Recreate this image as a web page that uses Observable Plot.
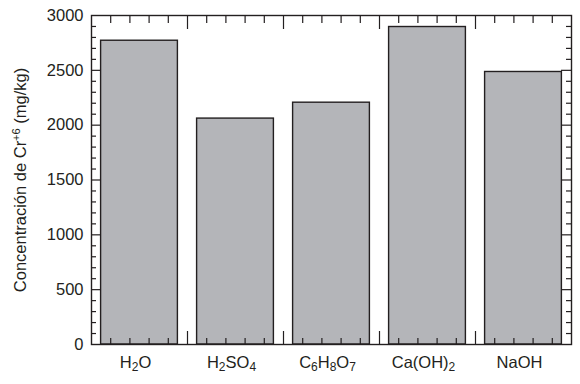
<!DOCTYPE html>
<html>
<head>
<meta charset="utf-8">
<script src="https://cdn.jsdelivr.net/npm/d3@7"></script>
<script src="https://cdn.jsdelivr.net/npm/@observablehq/plot@0.6"></script>
<style>
  html, body { margin: 0; padding: 0; background: #fff; }
  svg { font-family: "Liberation Sans", Arial, Helvetica, sans-serif; }
</style>
</head>
<body>
<div id="chart"></div>
<script>
const categories = ["H₂O", "H₂SO₄", "C₆H₈O₇", "Ca(OH)₂", "NaOH"];
const values = [2770, 2060, 2205, 2895, 2485];
const yLabel = "Concentración de Cr⁺⁶ (mg/kg)";
const yMajorTicks = [0, 500, 1000, 1500, 2000, 2500, 3000];

const data = categories.map((c, i) => ({category: c, index: i, value: values[i]}));
const barWidth = 0.8;
const xMinor = d3.range(1, 25).map(k => k / 5).filter(v => Math.abs(v - Math.round(v)) > 1e-9);
const xMajor = [1, 2, 3, 4];
const yMinor = d3.range(100, 3000, 100).filter(v => v % 500 !== 0);
const yMajorInner = yMajorTicks.filter(v => v > 0 && v < 3000);
const ink = "#231f20";
const none = () => "";
const tickOpts = {tickFormat: none, label: null, stroke: ink, strokeWidth: 1.2};

const chart = Plot.plot({
  width: 580,
  height: 384,
  marginLeft: 91,
  marginRight: 9,
  marginTop: 15,
  marginBottom: 40,
  style: {fontSize: "16px", color: ink, background: "#fff"},
  x: {type: "linear", domain: [0, categories.length], axis: null},
  y: {domain: [0, 3000], axis: null},
  marks: [
    Plot.rectY(data, {
      x1: d => d.index + (1 - barWidth) / 2,
      x2: d => d.index + (1 + barWidth) / 2,
      y1: 0,
      y2: "value",
      fill: "#b4b5b9",
      stroke: ink,
      strokeWidth: 1.4
    }),
    // x tick labels
    Plot.axisX(categories.map((c, i) => i + 0.5), {
      anchor: "bottom", tickSize: 0, tickPadding: 12, label: null, dx: -4,
      tickFormat: v => categories[Math.floor(v)], fontSize: 16.5
    }),
    // x inward ticks bottom & top
    Plot.axisX(xMinor, {anchor: "bottom", tickSize: -6, ...tickOpts}),
    Plot.axisX(xMajor, {anchor: "bottom", tickSize: -13, ...tickOpts}),
    Plot.axisX(xMinor, {anchor: "top", tickSize: -7, ...tickOpts}),
    Plot.axisX(xMajor, {anchor: "top", tickSize: -13, ...tickOpts}),
    // y labels
    Plot.axisY(yMajorTicks, {
      anchor: "left", tickSize: 0, tickPadding: 8, fontSize: 16.5,
      tickFormat: d3.format("d"),
      label: yLabel, labelAnchor: "center", labelOffset: 77, labelArrow: "none"
    }),
    // y inward ticks left & right
    Plot.axisY(yMinor, {anchor: "left", tickSize: -5, ...tickOpts}),
    Plot.axisY(yMajorInner, {anchor: "left", tickSize: -10, ...tickOpts}),
    Plot.axisY(yMinor, {anchor: "right", tickSize: -6, ...tickOpts}),
    Plot.axisY(yMajorInner, {anchor: "right", tickSize: -11, ...tickOpts}),
    Plot.frame({stroke: ink, strokeWidth: 1.4})
  ]
});

// Render unicode sub/superscripts as real shifted tspans (still text)
const subMap = {"₀":"0","₁":"1","₂":"2","₃":"3","₄":"4","₅":"5","₆":"6","₇":"7","₈":"8","₉":"9"};
const supMap = {"⁺":"+","⁻":"-","⁰":"0","¹":"1","²":"2","³":"3","⁴":"4","⁵":"5","⁶":"6","⁷":"7","⁸":"8","⁹":"9"};
function restyle(el) {
  const s = el.textContent;
  if (![...s].some(ch => subMap[ch] || supMap[ch])) return;
  const runs = [];
  for (const ch of s) {
    const kind = subMap[ch] ? "sub" : supMap[ch] ? "sup" : "n";
    const c = subMap[ch] || supMap[ch] || ch;
    if (runs.length && runs[runs.length - 1].kind === kind) runs[runs.length - 1].t += c;
    else runs.push({kind, t: c});
  }
  while (el.firstChild) el.removeChild(el.firstChild);
  const ns = "http://www.w3.org/2000/svg";
  for (const r of runs) {
    const ts = document.createElementNS(ns, "tspan");
    ts.textContent = r.t;
    if (r.kind === "sub") { ts.setAttribute("font-size", "12"); ts.setAttribute("baseline-shift", "-3"); }
    if (r.kind === "sup") { ts.setAttribute("font-size", "11"); ts.setAttribute("baseline-shift", "6"); }
    el.appendChild(ts);
  }
}
chart.querySelectorAll("text").forEach(t => restyle(t));
document.getElementById("chart").appendChild(chart);
</script>
</body>
</html>
